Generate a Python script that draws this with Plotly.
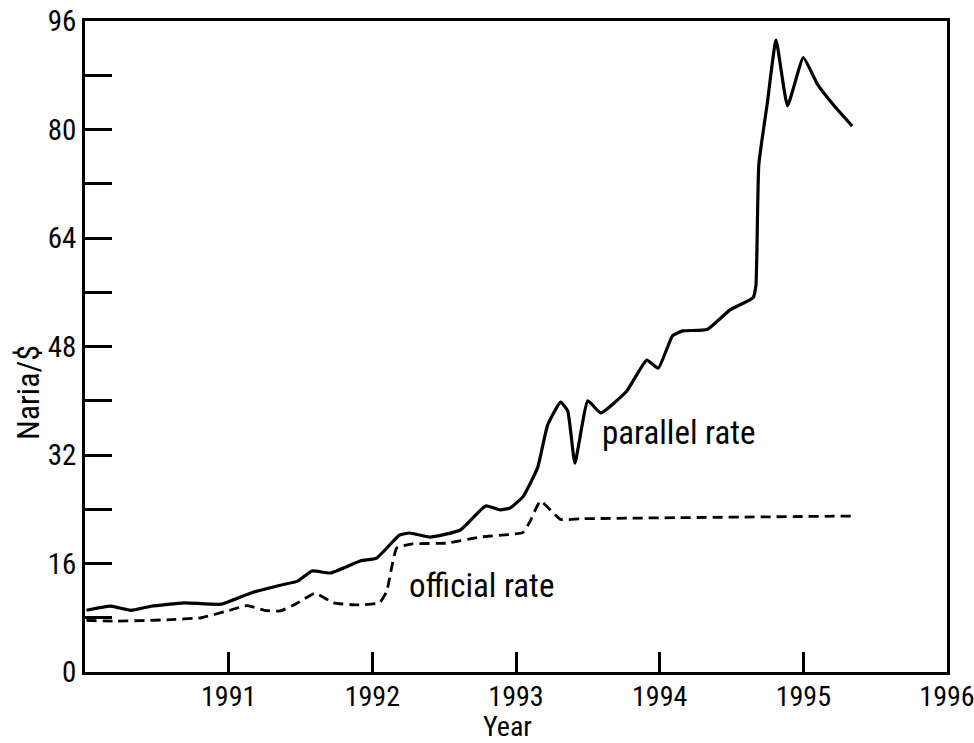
import plotly.graph_objects as go

# Parallel (black market) rate, Naira per US$
parallel_year = [1990.01, 1990.18, 1990.32, 1990.46, 1990.69, 1990.95, 1991.16, 1991.36,
                 1991.48, 1991.58, 1991.71, 1991.92, 1992.03, 1992.19, 1992.26, 1992.40,
                 1992.61, 1992.79, 1992.89, 1992.96, 1993.05, 1993.15, 1993.22, 1993.31,
                 1993.36, 1993.41, 1993.50, 1993.59, 1993.77, 1993.91, 1993.99, 1994.09,
                 1994.16, 1994.33, 1994.49, 1994.65, 1994.67, 1994.69, 1994.75, 1994.81,
                 1994.89, 1995.00, 1995.10, 1995.21, 1995.34]
parallel_rate = [9.1, 9.7, 9.1, 9.7, 10.2, 10.0, 11.7, 12.8,
                 13.4, 14.9, 14.6, 16.4, 16.8, 20.2, 20.5, 19.9,
                 20.9, 24.5, 23.9, 24.2, 25.9, 30.1, 36.4, 39.8,
                 38.5, 30.8, 40.0, 38.2, 41.4, 46.0, 44.8, 49.6,
                 50.3, 50.5, 53.4, 55.2, 57.0, 74.8, 84.0, 93.2,
                 83.5, 90.6, 86.6, 83.6, 80.5]

# Official rate, Naira per US$
official_year = [1990.01, 1990.22, 1990.57, 1990.81, 1990.99, 1991.13, 1991.25, 1991.36,
                 1991.48, 1991.60, 1991.73, 1991.89, 1992.05, 1992.10, 1992.17, 1992.28,
                 1992.52, 1992.75, 1993.05, 1993.10, 1993.17, 1993.31, 1993.45, 1995.35]
official_rate = [7.6, 7.5, 7.7, 8.0, 9.0, 9.8, 9.1, 9.0,
                 10.2, 11.6, 10.2, 9.9, 10.2, 11.9, 18.3, 18.9,
                 19.0, 19.9, 20.6, 22.3, 25.2, 22.5, 22.6, 23.0]

y_tickvals = [0, 8, 16, 24, 32, 40, 48, 56, 64, 72, 80, 88, 96]
y_ticktext = ["0", "", "16", "", "32", "", "48", "", "64", "", "80", "", "96"]
x_tickvals = [1991, 1992, 1993, 1994, 1995, 1996]
x_ticktext = ["1991", "1992", "1993", "1994", "1995", "1996"]

FONT = "Liberation Sans Narrow, Roboto Condensed, Arial Narrow, sans-serif"

fig = go.Figure()
fig.add_trace(go.Scatter(x=parallel_year, y=parallel_rate, mode="lines",
                         line=dict(color="black", width=3.2, shape="spline", smoothing=0.4),
                         showlegend=False))
fig.add_trace(go.Scatter(x=official_year, y=official_rate, mode="lines",
                         line=dict(color="black", width=2.8, dash="10px,6px",
                                   shape="spline", smoothing=0.4),
                         showlegend=False))

fig.add_annotation(x=1993.586, y=35.3, text="parallel rate", showarrow=False,
                   xanchor="left", yanchor="middle", font=dict(size=33, color="black", family=FONT))
fig.add_annotation(x=1992.242, y=12.7, text="official rate", showarrow=False,
                   xanchor="left", yanchor="middle", font=dict(size=33, color="black", family=FONT))
fig.add_annotation(xref="paper", yref="paper", x=-0.066, y=0.4286, text="Naria/$",
                   textangle=-90, showarrow=False, xanchor="center", yanchor="middle",
                   font=dict(size=32, color="black", family=FONT))
fig.add_annotation(xref="paper", yref="paper", x=0.4896, y=-0.084, text="Year",
                   showarrow=False, xanchor="center", yanchor="middle",
                   font=dict(size=28, color="black", family=FONT))

fig.update_xaxes(range=[1990, 1996], tickvals=x_tickvals, ticktext=x_ticktext,
                 ticks="inside", ticklen=20, tickwidth=2.5, tickcolor="black",
                 showline=True, linewidth=2.5, linecolor="black", mirror=True,
                 showgrid=False, zeroline=False, automargin=False,
                 ticklabeloverflow="allow", ticklabelstandoff=-2,
                 tickfont=dict(size=28, color="black", family=FONT))
fig.update_yaxes(range=[0, 96], tickvals=y_tickvals, ticktext=y_ticktext,
                 ticks="inside", ticklen=27, tickwidth=2.5, tickcolor="black",
                 showline=True, linewidth=2.5, linecolor="black", mirror=True,
                 showgrid=False, zeroline=False, automargin=False,
                 ticklabeloverflow="allow",
                 tickfont=dict(size=29, color="black", family=FONT))

fig.update_layout(width=974, height=743, margin=dict(l=85, r=27, t=21, b=71),
                  plot_bgcolor="white", paper_bgcolor="white",
                  font=dict(family=FONT, color="black"))

fig.write_html("out.html", config={"displayModeBar": False},
               post_script="document.body.style.margin='0';document.body.style.overflow='hidden';")
